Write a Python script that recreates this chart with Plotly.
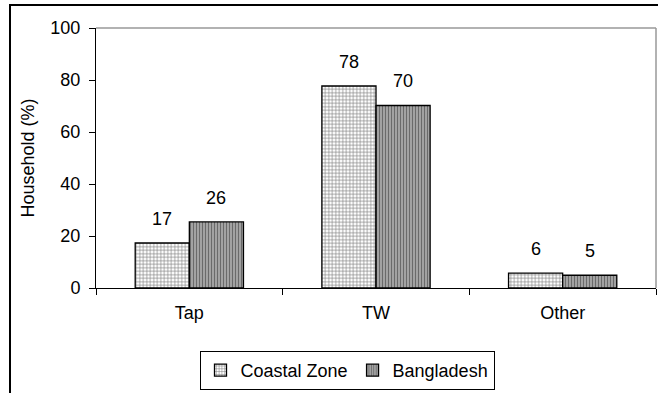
import plotly.graph_objects as go

categories = ["Tap", "TW", "Other"]
coastal = [17.3, 77.7, 5.7]
bangladesh = [25.4, 70.2, 4.9]
coastal_labels = ["17", "78", "6"]
bangladesh_labels = ["26", "70", "5"]
y_ticks = [0, 20, 40, 60, 80, 100]

FONT = "Arial, Liberation Sans, sans-serif"
FS = 18
W, H = 658, 393
L, R, T, B = 96, 2, 28, 105
pw, ph = W - L - R, H - T - B

fig = go.Figure()
fig.add_trace(go.Bar(
    x=categories, y=coastal, name="Coastal Zone",
    marker=dict(color="white", line=dict(color="black", width=1.3),
                pattern=dict(shape="+", fgcolor="#808080", bgcolor="white",
                             size=3.5, solidity=0.35, fillmode="replace")),
))
fig.add_trace(go.Bar(
    x=categories, y=bangladesh, name="Bangladesh",
    marker=dict(color="#8c8c8c", line=dict(color="black", width=1.3),
                pattern=dict(shape="|", fgcolor="#6a6a6a", bgcolor="#a8a8a8",
                             size=3, solidity=0.4, fillmode="replace")),
))

# data labels
for cat, v, t in zip(categories, coastal, coastal_labels):
    fig.add_annotation(x=cat, y=v, text=t, showarrow=False, xshift=-27,
                       yshift=12, yanchor="bottom", font=dict(size=FS, color="black", family=FONT))
for cat, v, t in zip(categories, bangladesh, bangladesh_labels):
    fig.add_annotation(x=cat, y=v, text=t, showarrow=False, xshift=27,
                       yshift=12, yanchor="bottom", font=dict(size=FS, color="black", family=FONT))

def px(x):
    return (x - L) / pw

def py(y):
    return (H - B - y) / ph

shapes = [
    # outer frame (top and left)
    dict(type="line", xref="paper", yref="paper", x0=px(10), x1=px(660), y0=py(5), y1=py(5),
         line=dict(color="black", width=2)),
    dict(type="line", xref="paper", yref="paper", x0=px(10), x1=px(10), y0=py(4), y1=py(395),
         line=dict(color="black", width=2)),
    # plot area border (gray top and right)
    dict(type="line", xref="paper", yref="paper", x0=0, x1=1, y0=1, y1=1,
         line=dict(color="#999999", width=1.5)),
    dict(type="line", xref="paper", yref="paper", x0=1, x1=1, y0=0, y1=1,
         line=dict(color="#999999", width=1.5)),
]

fig.update_layout(
    width=W, height=H,
    margin=dict(l=L, r=R, t=T, b=B),
    paper_bgcolor="white", plot_bgcolor="white",
    barmode="group", bargap=0.42, bargroupgap=0,
    font=dict(family=FONT, size=FS, color="black"),
    showlegend=True,
    legend=dict(orientation="h", x=px(347), xanchor="center", y=py(351), yanchor="top",
                bordercolor="black", borderwidth=1, font=dict(size=FS),
                itemwidth=30, tracegroupgap=0),
    shapes=shapes,
    xaxis=dict(showline=True, linecolor="black", linewidth=1, ticks="outside",
               tickson="boundaries", ticklen=6, tickcolor="black",
               ticklabelstandoff=8, showgrid=False, zeroline=False,
               tickfont=dict(size=FS)),
    yaxis=dict(range=[0, 100], tickvals=y_ticks, showline=True, linecolor="black",
               linewidth=1, ticks="outside", ticklen=6, tickcolor="black",
               ticklabelstandoff=5,
               showgrid=False, zeroline=False, tickfont=dict(size=FS),
               title=dict(text="Household (%)", font=dict(size=FS), standoff=11)),
)

fig.write_html("out.html", config={"displayModeBar": False},
               post_script="document.body.style.margin='0px';")
